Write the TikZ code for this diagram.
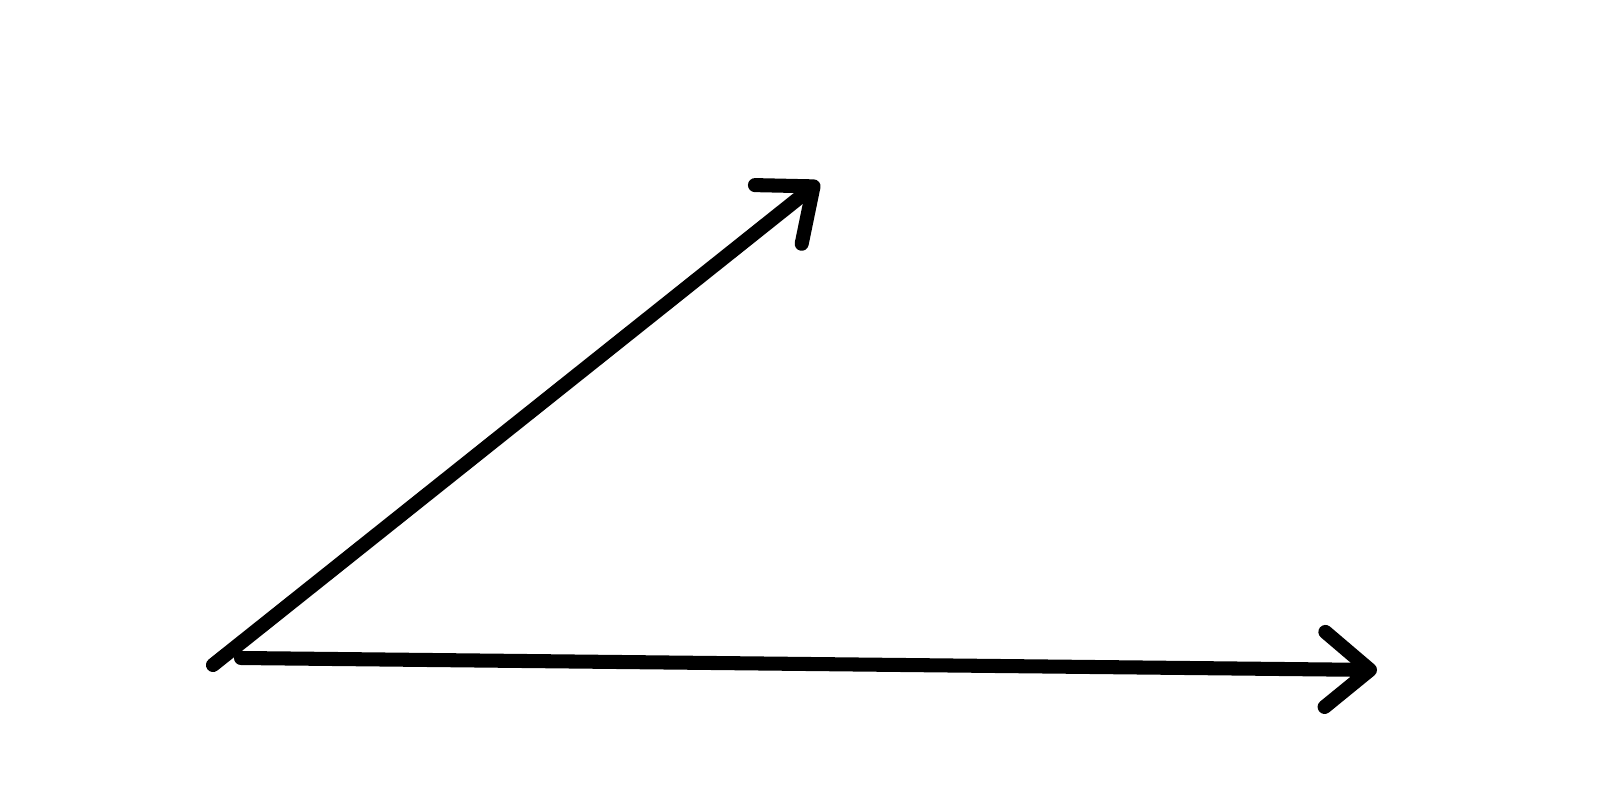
\documentclass[tikz,border=0pt]{standalone}
\usepackage{tikz}
\usetikzlibrary{arrows.meta}

\begin{document}
\begin{tikzpicture}[ray/.style={-{Straight Barb[length=4.5mm,width=7.5mm,line cap=round,line join=round]},line width=4pt,line cap=round}]
        \useasboundingbox (0,0) rectangle (16,8.05);
        \coordinate (O) at (2.13,1.40);
        \coordinate (V) at (2.41,1.47);
        \coordinate (A) at (8.19,6.23);
        \coordinate (B) at (13.77,1.35);
        \draw[ray] (O) -- (A);
        \draw[ray] (V) -- (B);
      \end{tikzpicture}
\end{document}
